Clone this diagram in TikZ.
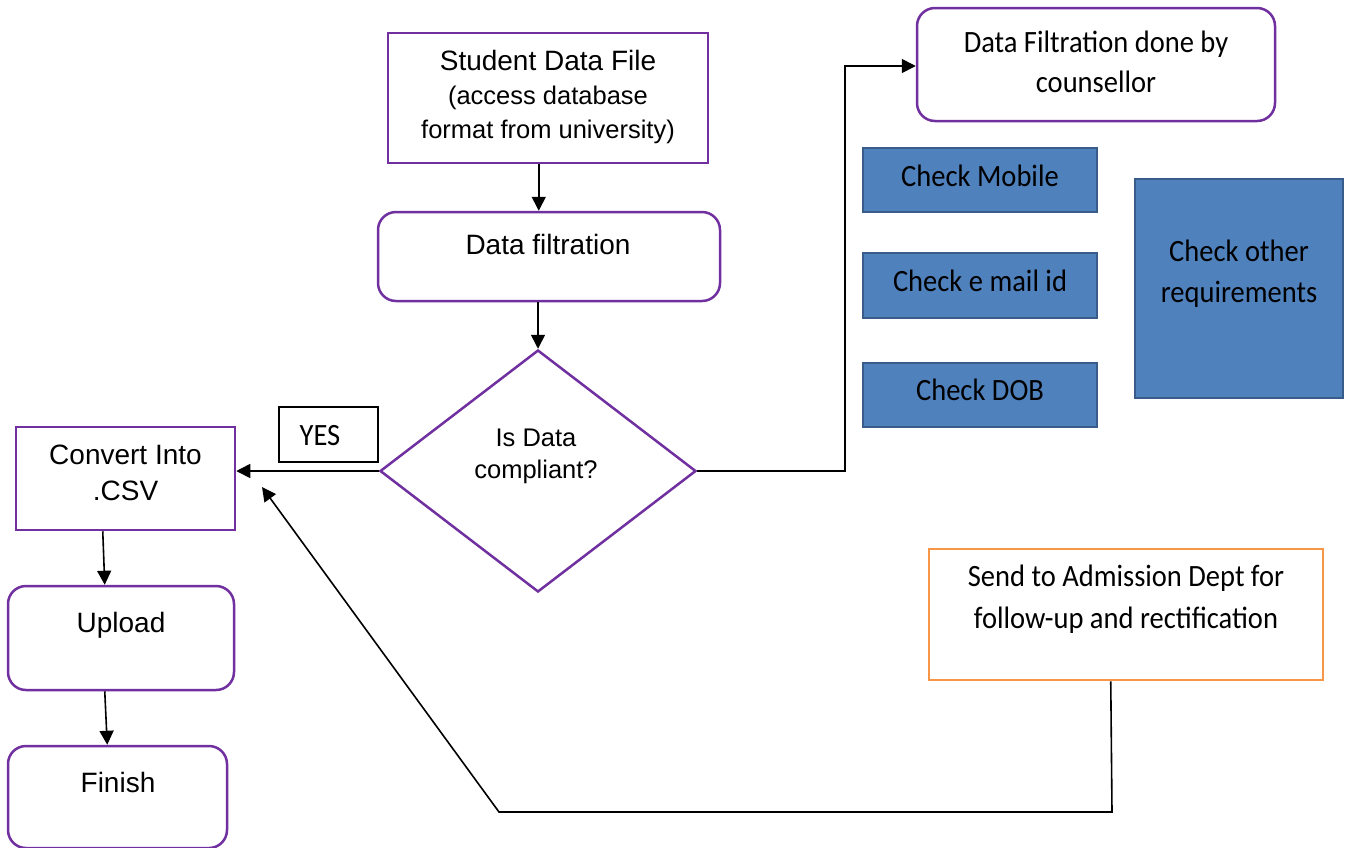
\documentclass[tikz,border=0pt]{standalone}
\usepackage{fontspec}
\setmainfont{Liberation Sans}
\newfontfamily\calfont[FakeStretch=0.92]{Carlito}
\usetikzlibrary{arrows.meta,shapes.geometric,calc}
\definecolor{purp}{HTML}{7030A0}
\definecolor{bfill}{HTML}{4F81BD}
\definecolor{bdraw}{HTML}{385D8A}
\definecolor{orng}{HTML}{F79646}
\begin{document}
\begin{tikzpicture}[x=1pt,y=-1pt,
  pbox/.style={draw=purp,line width=2.5pt,fill=white,inner sep=0pt},
  rbox/.style={pbox,rounded corners=18pt},
  bbox/.style={draw=bdraw,fill=bfill,line width=2pt,inner sep=0pt},
  obox/.style={draw=orng,line width=2.5pt,fill=white,inner sep=0pt},
  kbox/.style={draw=black,line width=1.5pt,fill=white,inner sep=0pt},
  arr/.style={-{Triangle[length=14pt,width=14pt]},line width=1.6pt},
  atxt/.style={font=\fontsize{28}{36}\selectfont,align=center,inner sep=0pt},
  stxt/.style={font=\fontsize{25.5}{34}\selectfont,align=center,inner sep=0pt},
  ctxt/.style={font=\calfont\fontsize{31}{40}\selectfont,align=center,inner sep=0pt}
]
\useasboundingbox (0,0) rectangle (1351,847);

% boxes
\node[pbox,minimum width=320pt,minimum height=130pt] (sdf) at (548,98) {};
\node[rbox,minimum width=342pt,minimum height=89pt] (df) at (549,256.5) {};
\node[draw=purp,line width=2.5pt,fill=white,diamond,minimum width=316pt,minimum height=242pt,inner sep=0pt] (dia) at (538,471) {};
\node[kbox,minimum width=99pt,minimum height=55pt] (yes) at (328.5,434.5) {};
\node[pbox,minimum width=219pt,minimum height=103pt] (conv) at (125.5,478.5) {};
\node[rbox,minimum width=226pt,minimum height=104pt] (upl) at (121,638) {};
\node[rbox,minimum width=219pt,minimum height=102pt] (fin) at (117.5,797) {};
\node[rbox,minimum width=358pt,minimum height=113pt] (dfc) at (1096,64.5) {};
\node[bbox,minimum width=234pt,minimum height=64pt] (mob) at (980,180) {};
\node[bbox,minimum width=234pt,minimum height=65pt] (mail) at (980,285.5) {};
\node[bbox,minimum width=234pt,minimum height=64pt] (dob) at (980,395) {};
\node[bbox,minimum width=208pt,minimum height=219pt] (oth) at (1239,288.5) {};
\node[obox,minimum width=394pt,minimum height=131pt] (send) at (1126,614.5) {};

% texts
\node[stxt] (tsdf) at (548,97) {{\fontsize{28}{36}\selectfont Student Data File}\\(access database\\format from university)};
\node[atxt] (tdf) at (548,244) {Data filtration};
\node[stxt,font=\fontsize{25.5}{32}\selectfont] (tdia) at (536,456) {Is Data\\compliant?};
\node[ctxt] (tyes) at (320,436) {YES};
\node[ctxt] (tdfc) at (1096,61.5) {Data Filtration done by\\counsellor};
\node[ctxt] (tmob) at (980,176) {Check Mobile};
\node[ctxt] (tmail) at (980,281) {Check e mail id};
\node[ctxt] (tdob) at (980,390) {Check DOB};
\node[ctxt,font=\calfont\fontsize{31}{41}\selectfont] (toth) at (1239,273.5) {Check other\\requirements};
\node[ctxt,font=\calfont\fontsize{31}{42}\selectfont] (tsend) at (1126,599) {Send to Admission Dept for\\follow-up and rectification};
\node[atxt] (tconv) at (125.5,473) {Convert Into\\.CSV};
\node[atxt] (tupl) at (121,625) {Upload};
\node[atxt] (tfin) at (118,782) {Finish};

% connectors
\draw[arr] ($(sdf.south west)+(152,0)$) -- ($(df.north west)+(162,0)$);
\draw[arr] (dia.north |- df.south) -- (dia.north);
\draw[arr] (dia.west) -- (dia.west -| conv.east);
\draw[arr] ($(conv.south west)+(88,0)$) -- ($(upl.north west)+(98,0)$);
\draw[arr] ($(upl.south west)+(98,0)$) -- ($(fin.north west)+(100.5,0)$);
\draw[arr] (dia.east) -- (845,471) -- (845,66) -- (dfc.west |- 0,66);
\coordinate (fb) at (262,487);
\draw[arr] ($(send.south west)+(183,0)$) -- (1112,812) -- (499,812) -- (fb);
\end{tikzpicture}
\end{document}
